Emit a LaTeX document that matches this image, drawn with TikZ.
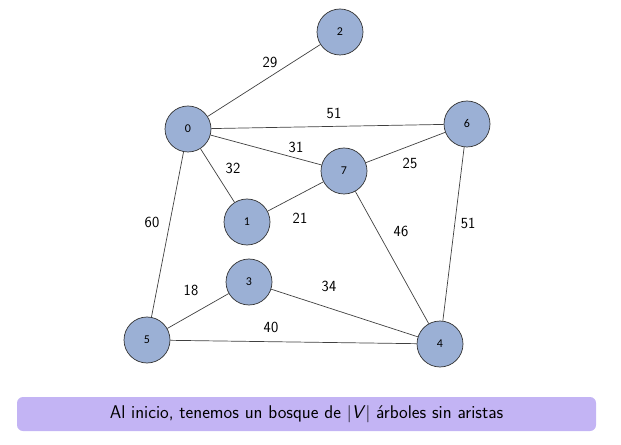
\documentclass[tikz,border=0pt]{standalone}
\usepackage{fontspec}
\newfontfamily\nodefont{Carlito}
\begin{document}
\begin{tikzpicture}[x=1bp,y=-1bp,
  vtx/.style={circle,draw=black!80,line width=0.7bp,fill=vfill,minimum size=46bp,inner sep=0pt,font=\nodefont\fontsize{12}{13}\selectfont},
  edge/.style={draw=black!75,line width=0.7bp},
  wt/.style={font=\sffamily\fontsize{15.5}{17}\selectfont,inner sep=0pt},
  banner/.style={fill=bannerfill,rounded corners=6bp,draw=none}]
\definecolor{vfill}{HTML}{9BB0D5}
\definecolor{bannerfill}{HTML}{C3B4F4}
\useasboundingbox (0,0) rectangle (621,445);
\node[vtx] (v2) at (340,32) {2};
\node[vtx] (v0) at (188,129) {0};
\node[vtx] (v6) at (467,124) {6};
\node[vtx] (v7) at (344,171) {7};
\node[vtx] (v1) at (247,222) {1};
\node[vtx] (v3) at (249,282) {3};
\node[vtx] (v5) at (147,340) {5};
\node[vtx] (v4) at (440,344) {4};
\draw[edge] (v0) -- (v2);
\draw[edge] (v0) -- (v6);
\draw[edge] (v0) -- (v7);
\draw[edge] (v0) -- (v1);
\draw[edge] (v0) -- (v5);
\draw[edge] (v1) -- (v7);
\draw[edge] (v7) -- (v6);
\draw[edge] (v7) -- (v4);
\draw[edge] (v6) -- (v4);
\draw[edge] (v3) -- (v5);
\draw[edge] (v3) -- (v4);
\draw[edge] (v5) -- (v4);
\node[wt] (w29) at (270,62) {29};
\node[wt] (w51a) at (334,113) {51};
\node[wt] (w31) at (296,147) {31};
\node[wt] (w32) at (233,168) {32};
\node[wt] (w25) at (410,163) {25};
\node[wt] (w60) at (152,222) {60};
\node[wt] (w21) at (300,218) {21};
\node[wt] (w46) at (401,231) {46};
\node[wt] (w51b) at (468,223) {51};
\node[wt] (w18) at (191,290) {18};
\node[wt] (w34) at (329,286) {34};
\node[wt] (w40) at (271,327) {40};
\path[banner] (17,397) rectangle (596,431);
\node[font=\sffamily\fontsize{18.5}{20}\selectfont] (msg) at (306.5,414) {Al inicio, tenemos un bosque de $|$\textit{V}$|$ árboles sin aristas};
\end{tikzpicture}
\end{document}
